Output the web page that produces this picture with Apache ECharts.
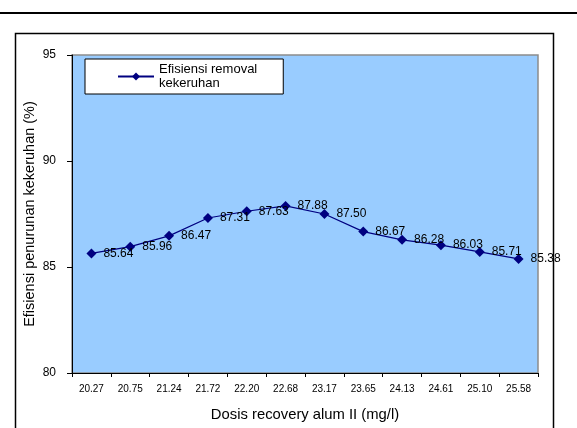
<!DOCTYPE html>
<html>
<head>
<meta charset="utf-8">
<script src="https://cdn.jsdelivr.net/npm/echarts@6/dist/echarts.min.js"></script>
<style>
  html, body { margin: 0; padding: 0; background: #ffffff; }
  #chart { width: 577px; height: 428px; }
</style>
</head>
<body>
<div id="chart"></div>
<script>
// Alum dose (mg/l) on the category axis
const doses = ['20.27', '20.75', '21.24', '21.72', '22.20', '22.68', '23.17', '23.65', '24.13', '24.61', '25.10', '25.58'];
// Turbidity removal efficiency (%)
const efficiency = [85.64, 85.96, 86.47, 87.31, 87.63, 87.88, 87.50, 86.67, 86.28, 86.03, 85.71, 85.38];
const yTicks = { min: 80, max: 95, step: 5 };

const FONT = '"Liberation Sans", Arial, sans-serif';
const chart = echarts.init(document.getElementById('chart'), null, { renderer: 'canvas' });

chart.setOption({
  backgroundColor: '#ffffff',
  animation: false,
  textStyle: { fontFamily: FONT },
  graphic: [
    { type: 'line', z: 0, shape: { x1: 0, y1: 13, x2: 577, y2: 13 },
      style: { stroke: '#000', lineWidth: 2 } },
    { type: 'rect', z: 0, shape: { x: 15.5, y: 33.5, width: 538, height: 420 },
      style: { fill: 'none', stroke: '#000', lineWidth: 1.5 } }
  ],
  grid: {
    left: 72, right: 39, top: 55, bottom: 55,
    show: true, backgroundColor: '#99CCFF', borderColor: '#8c8c8c', borderWidth: 1.5
  },
  legend: {
    left: 85, top: 59,
    backgroundColor: '#ffffff', borderColor: '#000', borderWidth: 1,
    padding: [4, 26, 4, 32],
    itemWidth: 36, itemHeight: 10, itemGap: 0,
    formatter: () => 'Efisiensi removal\nkekeruhan',
    textStyle: { fontFamily: FONT, fontSize: 13, color: '#000', lineHeight: 13.5 },
    data: ['eff']
  },
  xAxis: {
    type: 'category',
    data: doses,
    boundaryGap: true,
    name: 'Dosis recovery alum II (mg/l)',
    nameLocation: 'middle', nameGap: 34,
    nameTextStyle: { fontFamily: FONT, fontSize: 14.8, color: '#000' },
    axisLine: { lineStyle: { color: '#000', width: 1 } },
    axisTick: { show: true, length: 4, lineStyle: { color: '#000' } },
    axisLabel: { fontFamily: FONT, fontSize: 10, color: '#000', margin: 11 },
    splitLine: { show: false }
  },
  yAxis: {
    type: 'value',
    min: yTicks.min, max: yTicks.max, interval: yTicks.step,
    name: 'Efisiensi penurunan kekeruhan (%)',
    nameLocation: 'middle', nameGap: 35, nameMoveOverlap: false,
    nameTextStyle: { fontFamily: FONT, fontSize: 14.5, color: '#000' },
    axisLine: { show: true, lineStyle: { color: '#000', width: 1 } },
    axisTick: { show: true, length: 5, lineStyle: { color: '#000' } },
    axisLabel: { fontFamily: FONT, fontSize: 12, color: '#000', margin: 16 },
    splitLine: { show: false }
  },
  series: [{
    name: 'eff',
    type: 'line',
    data: efficiency,
    symbol: 'diamond',
    symbolSize: 10,
    color: '#000080',
    lineStyle: { color: '#000080', width: 1.2 },
    itemStyle: { color: '#000080' },
    label: {
      show: true, position: 'right', distance: 7,
      formatter: p => p.value.toFixed(2),
      fontFamily: FONT, fontSize: 12, color: '#000'
    }
  }]
});
</script>
</body>
</html>
